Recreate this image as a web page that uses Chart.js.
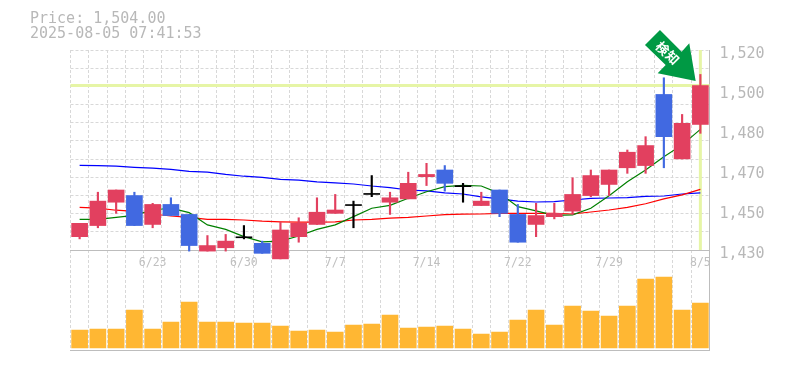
<!DOCTYPE html>
<html><head><meta charset="utf-8">
<style>html,body{margin:0;padding:0;background:#fff}#wrap{width:785px;height:370px}canvas{display:block}</style>
<script src="https://cdn.jsdelivr.net/npm/chart.js@4"></script>
</head><body><div id="wrap"><canvas id="c" width="785" height="370"></canvas></div>
<script>
const dates = ['','','','','6/23','','','','','6/30','','','','','7/7','','','','','7/14','','','','','7/22','','','','','7/29','','','','','8/5'];
const openP  = [1436,1441,1451.5,1454.5,1441.5,1450.5,1446,1429.5,1431,1435.5,1433,1426,1436,1441.5,1446.5,1450,1455,1451.5,1453,1463,1466,1458.5,1450,1457,1446,1441.5,1445,1447.5,1454.5,1459.5,1467,1468,1500,1471,1486.5];
const closeP = [1442,1452,1457,1441,1450.5,1445.5,1432,1432,1434,1435.5,1428.5,1439,1442,1447,1448,1450,1455,1453.5,1460,1464,1460,1458.5,1452,1446.5,1433.5,1445.5,1446.5,1455,1463.5,1466,1474,1477,1481,1487,1504];
const highP  = [1442,1456,1457,1456,1451,1453.5,1446,1436.5,1437,1441,1434,1442.5,1444.5,1453.5,1455,1452,1463.5,1456,1465,1469,1468,1460,1456,1457,1450.5,1451,1451,1462.5,1466,1466,1475,1481,1507.5,1491,1509];
const lowP   = [1435,1440,1446.5,1441,1440,1445.5,1429.5,1429.5,1429.5,1435,1428.5,1426,1433.5,1441.5,1446.5,1440,1454,1446,1453,1459,1456.5,1451.5,1450,1445,1433.5,1436,1444,1446,1454,1454.5,1464.5,1464.5,1467,1471,1482.5];
const maGreen = [1443.8,1443.8,1444.7,1445.6,1448,1448.8,1446.8,1441.3,1439.3,1436,1433.7,1434,1436.3,1439.3,1441.3,1445,1448.8,1450.1,1453.3,1456.2,1458.5,1459.1,1458.8,1455.5,1449.5,1447.6,1445.6,1445.8,1448.8,1454.4,1460.7,1466,1472,1477.3,1484.3];
const maRed = [1449.2,1448.8,1447.9,1447.4,1446.2,1445.3,1444.7,1443.8,1443.8,1443.5,1443,1442.7,1442.5,1442.5,1442.7,1443.5,1443.8,1444.3,1444.7,1445.3,1445.9,1446.1,1446.2,1446.5,1446.5,1446.5,1446.5,1446.2,1447.1,1448,1449.2,1450.8,1453,1454.8,1457.3];
const maBlue = [1468.1,1468,1467.7,1467.2,1466.8,1466.3,1465.4,1465,1464,1463.2,1462.7,1461.8,1461.4,1460.7,1460.2,1459.7,1458.8,1458.1,1457,1456.6,1455.7,1455.2,1453.9,1453,1452,1451.6,1451.8,1452.5,1453.2,1453.4,1453.6,1454.1,1454.3,1455.2,1455.7];
const volume = [18,19,19,38,19,26,46,26,26,25,25,22,17,18,16,23,24,33,20,21,22,19,14,16,28,38,23,42,37,32,42,69,71,38,45];
const priceLabelValues = [1430,1448,1466,1484,1502,1520];
const priceLabelTexts = ['1,430','1,450','1,470','1,480','1,500','1,520'];
const priceGridSteps = 11;
const priceMin = 1430, priceMax = 1520, lastPrice = 1504;
const headerLines = ['Price: 1,504.00','2025-08-05 07:41:53'];
const signalText = ['検','知'];

const UP='#E2405F', DOWN='#4169E1', FLAT='#000000', GRID='#d8d8d8', FRAME='#bdbdbd', TEXT='#b8b8b8';
const candleColor = closeP.map((c,i)=> c>openP[i]?UP : c<openP[i]?DOWN : FLAT);
const gridValues = Array.from({length:priceGridSteps+1},(_,k)=>priceMin+(priceMax-priceMin)*k/priceGridSteps);
const allTicks = [...new Set([...gridValues,...priceLabelValues])].sort((a,b)=>a-b);

const overlay = {
  id:'overlay',
  beforeDatasetsDraw(ch){
    const {ctx,scales:{x,y}}=ch;
    const py=y.getPixelForValue(lastPrice), px=x.getPixelForValue(dates.length-1);
    ctx.save();
    ctx.strokeStyle='#e6f5a6'; ctx.lineWidth=3;
    ctx.beginPath();
    ctx.moveTo(x.left,py); ctx.lineTo(x.right,py);
    ctx.moveTo(px,y.top); ctx.lineTo(px,y.bottom);
    ctx.stroke();
    ctx.restore();
  },
  afterDatasetsDraw(ch){
    const {ctx,scales:{x,y}}=ch;
    const tx=x.getPixelForValue(dates.length-1)-4.7, ty=y.getPixelForValue(lastPrice)-4.6;
    const arrow=[[0,0],[-6.4,-37.7],[-14,-29.3],[-35.7,-51],[-50.7,-36],[-30,-16],[-38,-7.7]];
    ctx.save();
    ctx.fillStyle='#009944';
    ctx.beginPath();
    arrow.forEach((p,i)=> i?ctx.lineTo(tx+p[0],ty+p[1]):ctx.moveTo(tx+p[0],ty+p[1]));
    ctx.closePath(); ctx.fill();
    ctx.fillStyle='#ffffff';
    ctx.font='bold 13px "Noto Sans CJK JP"';
    ctx.textAlign='center'; ctx.textBaseline='middle';
    [[-33,-32.7],[-23,-23.3]].forEach((p,i)=>{
      ctx.save(); ctx.translate(tx+p[0],ty+p[1]); ctx.rotate(Math.PI/4);
      ctx.fillText(signalText[i],0,0); ctx.restore();
    });
    ctx.restore();
  },
  afterDraw(ch){
    const {ctx}=ch;
    ctx.save();
    ctx.fillStyle=TEXT; ctx.font='15px "DejaVu Sans Mono"';
    ctx.textAlign='left'; ctx.textBaseline='alphabetic';
    ctx.fillText(headerLines[0],30,23);
    ctx.fillText(headerLines[1],30,38);
    ctx.restore();
  }
};

new Chart(document.getElementById('c'),{
  type:'bar',
  plugins:[overlay],
  data:{labels:dates,datasets:[
    {type:'line',data:maGreen,borderColor:'#008000',borderWidth:1.2,pointRadius:0,tension:0,order:3,yAxisID:'y',xAxisID:'x'},
    {type:'line',data:maRed,borderColor:'#ff0000',borderWidth:1.2,pointRadius:0,tension:0,order:3,yAxisID:'y',xAxisID:'x'},
    {type:'line',data:maBlue,borderColor:'#0000ff',borderWidth:1.2,pointRadius:0,tension:0,order:3,yAxisID:'y',xAxisID:'x'},
    {data:lowP.map((l,i)=>[l,highP[i]]),backgroundColor:candleColor,barThickness:1.5,grouped:false,order:2,clip:false,yAxisID:'y',xAxisID:'x'},
    {data:openP.map((o,i)=>[o,closeP[i]]),backgroundColor:candleColor,barThickness:16,minBarLength:1,grouped:false,order:1,clip:false,yAxisID:'y',xAxisID:'x'},
    {data:volume,backgroundColor:'#FFB733',barThickness:16,grouped:false,order:1,yAxisID:'yVol',xAxisID:'x'}
  ]},
  options:{
    responsive:false,animation:false,
    layout:{padding:{left:70.5,top:50,right:0,bottom:20}},
    plugins:{legend:{display:false},tooltip:{enabled:false},title:{display:false}},
    scales:{
      x:{type:'category',axis:'x',position:{y:priceMin},offset:true,
        afterFit(s){s.height=0;},
        grid:{offset:true,color:GRID,lineWidth:1,drawTicks:false,tickLength:0},
        border:{display:true,color:FRAME,width:1,dash:[3,2]},
        ticks:{autoSkip:false,maxRotation:0,minRotation:0,padding:6,color:'#c0c0c0',font:{family:'"DejaVu Sans Mono"',size:11.5}}},
      xBase:{type:'category',axis:'x',position:'bottom',afterFit(s){s.height=0;},grid:{display:false},
        border:{display:true,color:FRAME,width:1},ticks:{display:false}},
      y:{position:'right',stack:'p',stackWeight:2,min:priceMin,max:priceMax,
        afterBuildTicks(s){s.ticks=allTicks.map(v=>({value:v}));},
        afterFit(s){s.width=75.5;},
        grid:{drawTicks:false,tickLength:0,lineWidth:1,
          color:c=>gridValues.some(v=>Math.abs(v-c.tick.value)<1e-6)?GRID:'rgba(0,0,0,0)'},
        border:{display:true,color:FRAME,width:1,dash:[3,2]},
        ticks:{autoSkip:false,padding:10,labelOffset:4.5,color:TEXT,font:{family:'"DejaVu Sans Mono"',size:15},
          callback:v=>{const i=priceLabelValues.indexOf(v);return i<0?'':priceLabelTexts[i];}}},
      yVol:{position:'right',stack:'p',stackWeight:1,min:-2,max:98,
        afterFit(s){s.width=75.5;},
        grid:{display:false},border:{display:true,color:FRAME,width:1},ticks:{display:false}}
    }
  }
});
</script></body></html>
